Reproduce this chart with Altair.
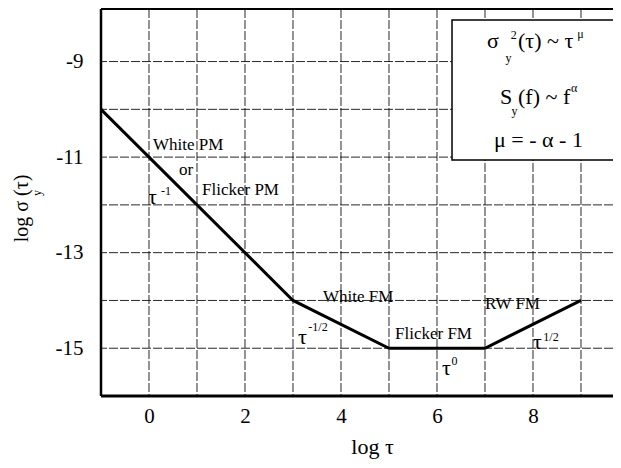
import altair as alt
import pandas as pd

FONT = "Liberation Serif, Times New Roman, Times, serif"

# ---- data ----
curve_x = [-1, 3, 5, 7, 9]
curve_y = [-10, -14, -15, -15, -14]

grid_x = [0, 1, 2, 3, 4, 5, 6, 7, 8, 9]
grid_y = [-9, -10, -11, -12, -13, -14, -15]
x_ticks = [0, 2, 4, 6, 8]
y_ticks = [-9, -11, -13, -15]

x_dom = [-1, 9.667]
y_dom = [-16, -7.9]

# legend box (data coords)
box_x, box_x2 = [6.313], [10.5]
box_y, box_y2 = [-8.131], [-11.061]

# left-aligned annotations
left_text = ["White PM", "Flicker PM", "τ", "-1", "White FM", "τ", "-1/2",
             "Flicker FM", "τ", "0", "RW FM", "τ", "1/2",
             "σ", "(τ) ~ τ", "S", "(f) ~ f"]
left_x = [0.083, 1.104, -0.021, 0.250, 3.625, 3.104, 3.320,
          5.125, 6.104, 6.300, 7.0, 8.0, 8.215,
          7.042, 7.688, 7.313, 7.688]
left_y = [-10.747, -11.689, -11.835, -11.700, -13.928, -14.765, -14.560,
          -14.702, -15.414, -15.270, -14.075, -14.870, -14.760,
          -8.57, -8.57, -9.742, -9.742]
left_size = [17, 17, 22, 12, 17, 22, 12,
             17, 22, 12, 17, 22, 12,
             22, 22, 22, 22]

# centre-aligned annotations
mid_text = ["or", "y", "2", "μ", "y", "α", "μ = - α - 1"]
mid_x = [0.771, 7.49, 7.60, 8.99, 7.615, 8.86, 8.115]
mid_y = [-11.270, -8.926, -8.445, -8.424, -10.035, -9.554, -10.642]
mid_size = [17, 12, 12, 12, 12, 12, 22]

# subscript of the y-axis title
ysub_text = ["y"]
ysub_x = [-2.333]
ysub_y = [-11.751]

# ---- encodings ----
xs = alt.Scale(domain=x_dom, nice=False, zero=False)
ys = alt.Scale(domain=y_dom, nice=False, zero=False)

LBL = "datum.value < 0 ? '-' + abs(datum.value) : '' + datum.value"

x_axis = alt.Axis(values=x_ticks, grid=False, ticks=False, domain=False,
                  labelFont=FONT, labelFontSize=21, labelColor="black",
                  labelPadding=9, labelExpr=LBL,
                  title="log τ", titleFont=FONT, titleFontSize=22,
                  titleFontWeight="normal", titleColor="black",
                  titleX=271, titleY=50, titleAlign="center", titleBaseline="middle")
y_axis = alt.Axis(values=y_ticks, grid=False, ticks=False, domain=False,
                  labelFont=FONT, labelFontSize=21, labelColor="black",
                  labelPadding=18, labelExpr=LBL,
                  title="log  σ  (τ)", titleFont=FONT, titleFontSize=20,
                  titleFontWeight="normal", titleColor="black", titleAngle=270,
                  titleX=-80, titleY=199, titleAlign="center", titleBaseline="middle")

X = lambda f="x": alt.X(f"{f}:Q", scale=xs, axis=x_axis)
Y = lambda f="y": alt.Y(f"{f}:Q", scale=ys, axis=y_axis)

GRID = dict(color="#111", strokeWidth=1, strokeDash=[9, 2], opacity=0.9)

vgrid = alt.Chart(pd.DataFrame({"x": grid_x})).mark_rule(**GRID).encode(x=X())
hgrid = alt.Chart(pd.DataFrame({"y": grid_y})).mark_rule(**GRID).encode(y=Y())

box = alt.Chart(pd.DataFrame({"x": box_x, "x2": box_x2, "y": box_y, "y2": box_y2})).mark_rect(
    fill="white", stroke="black", strokeWidth=1.5, clip=True).encode(
    x=X(), x2="x2:Q", y=Y(), y2="y2:Q")

curve = alt.Chart(pd.DataFrame({"x": curve_x, "y": curve_y})).mark_line(
    color="black", strokeWidth=3).encode(x=X(), y=Y())

left_border = alt.Chart(pd.DataFrame({"x": [x_dom[0]]})).mark_rule(
    color="black", strokeWidth=2.5).encode(x=X())
bottom_border = alt.Chart(pd.DataFrame({"y": [y_dom[0]]})).mark_rule(
    color="black", strokeWidth=3).encode(y=Y())
top_border = alt.Chart(pd.DataFrame({"y": [y_dom[1]]})).mark_rule(
    color="black", strokeWidth=2).encode(y=Y())

left_lbl = alt.Chart(pd.DataFrame({"x": left_x, "y": left_y, "t": left_text, "s": left_size})).mark_text(
    align="left", baseline="middle", font=FONT, color="black").encode(
    x=X(), y=Y(), text="t:N", size=alt.Size("s:Q", scale=None, legend=None))
mid_lbl = alt.Chart(pd.DataFrame({"x": mid_x, "y": mid_y, "t": mid_text, "s": mid_size})).mark_text(
    align="center", baseline="middle", font=FONT, color="black").encode(
    x=X(), y=Y(), text="t:N", size=alt.Size("s:Q", scale=None, legend=None))
ysub = alt.Chart(pd.DataFrame({"x": ysub_x, "y": ysub_y, "t": ysub_text})).mark_text(
    align="center", baseline="middle", font=FONT, color="black", fontSize=12, angle=270).encode(
    x=X(), y=Y(), text="t:N")

chart = alt.layer(vgrid, hgrid, box, curve, left_border, bottom_border, top_border,
                  left_lbl, mid_lbl, ysub).properties(
    width=512, height=387,
    autosize=alt.AutoSizeParams(type="none"),
    padding={"left": 93, "top": 1, "right": 0, "bottom": 70},
    background="white",
).configure_view(stroke=None)

chart.save("out.html", embed_options={"renderer": "svg", "actions": False})
